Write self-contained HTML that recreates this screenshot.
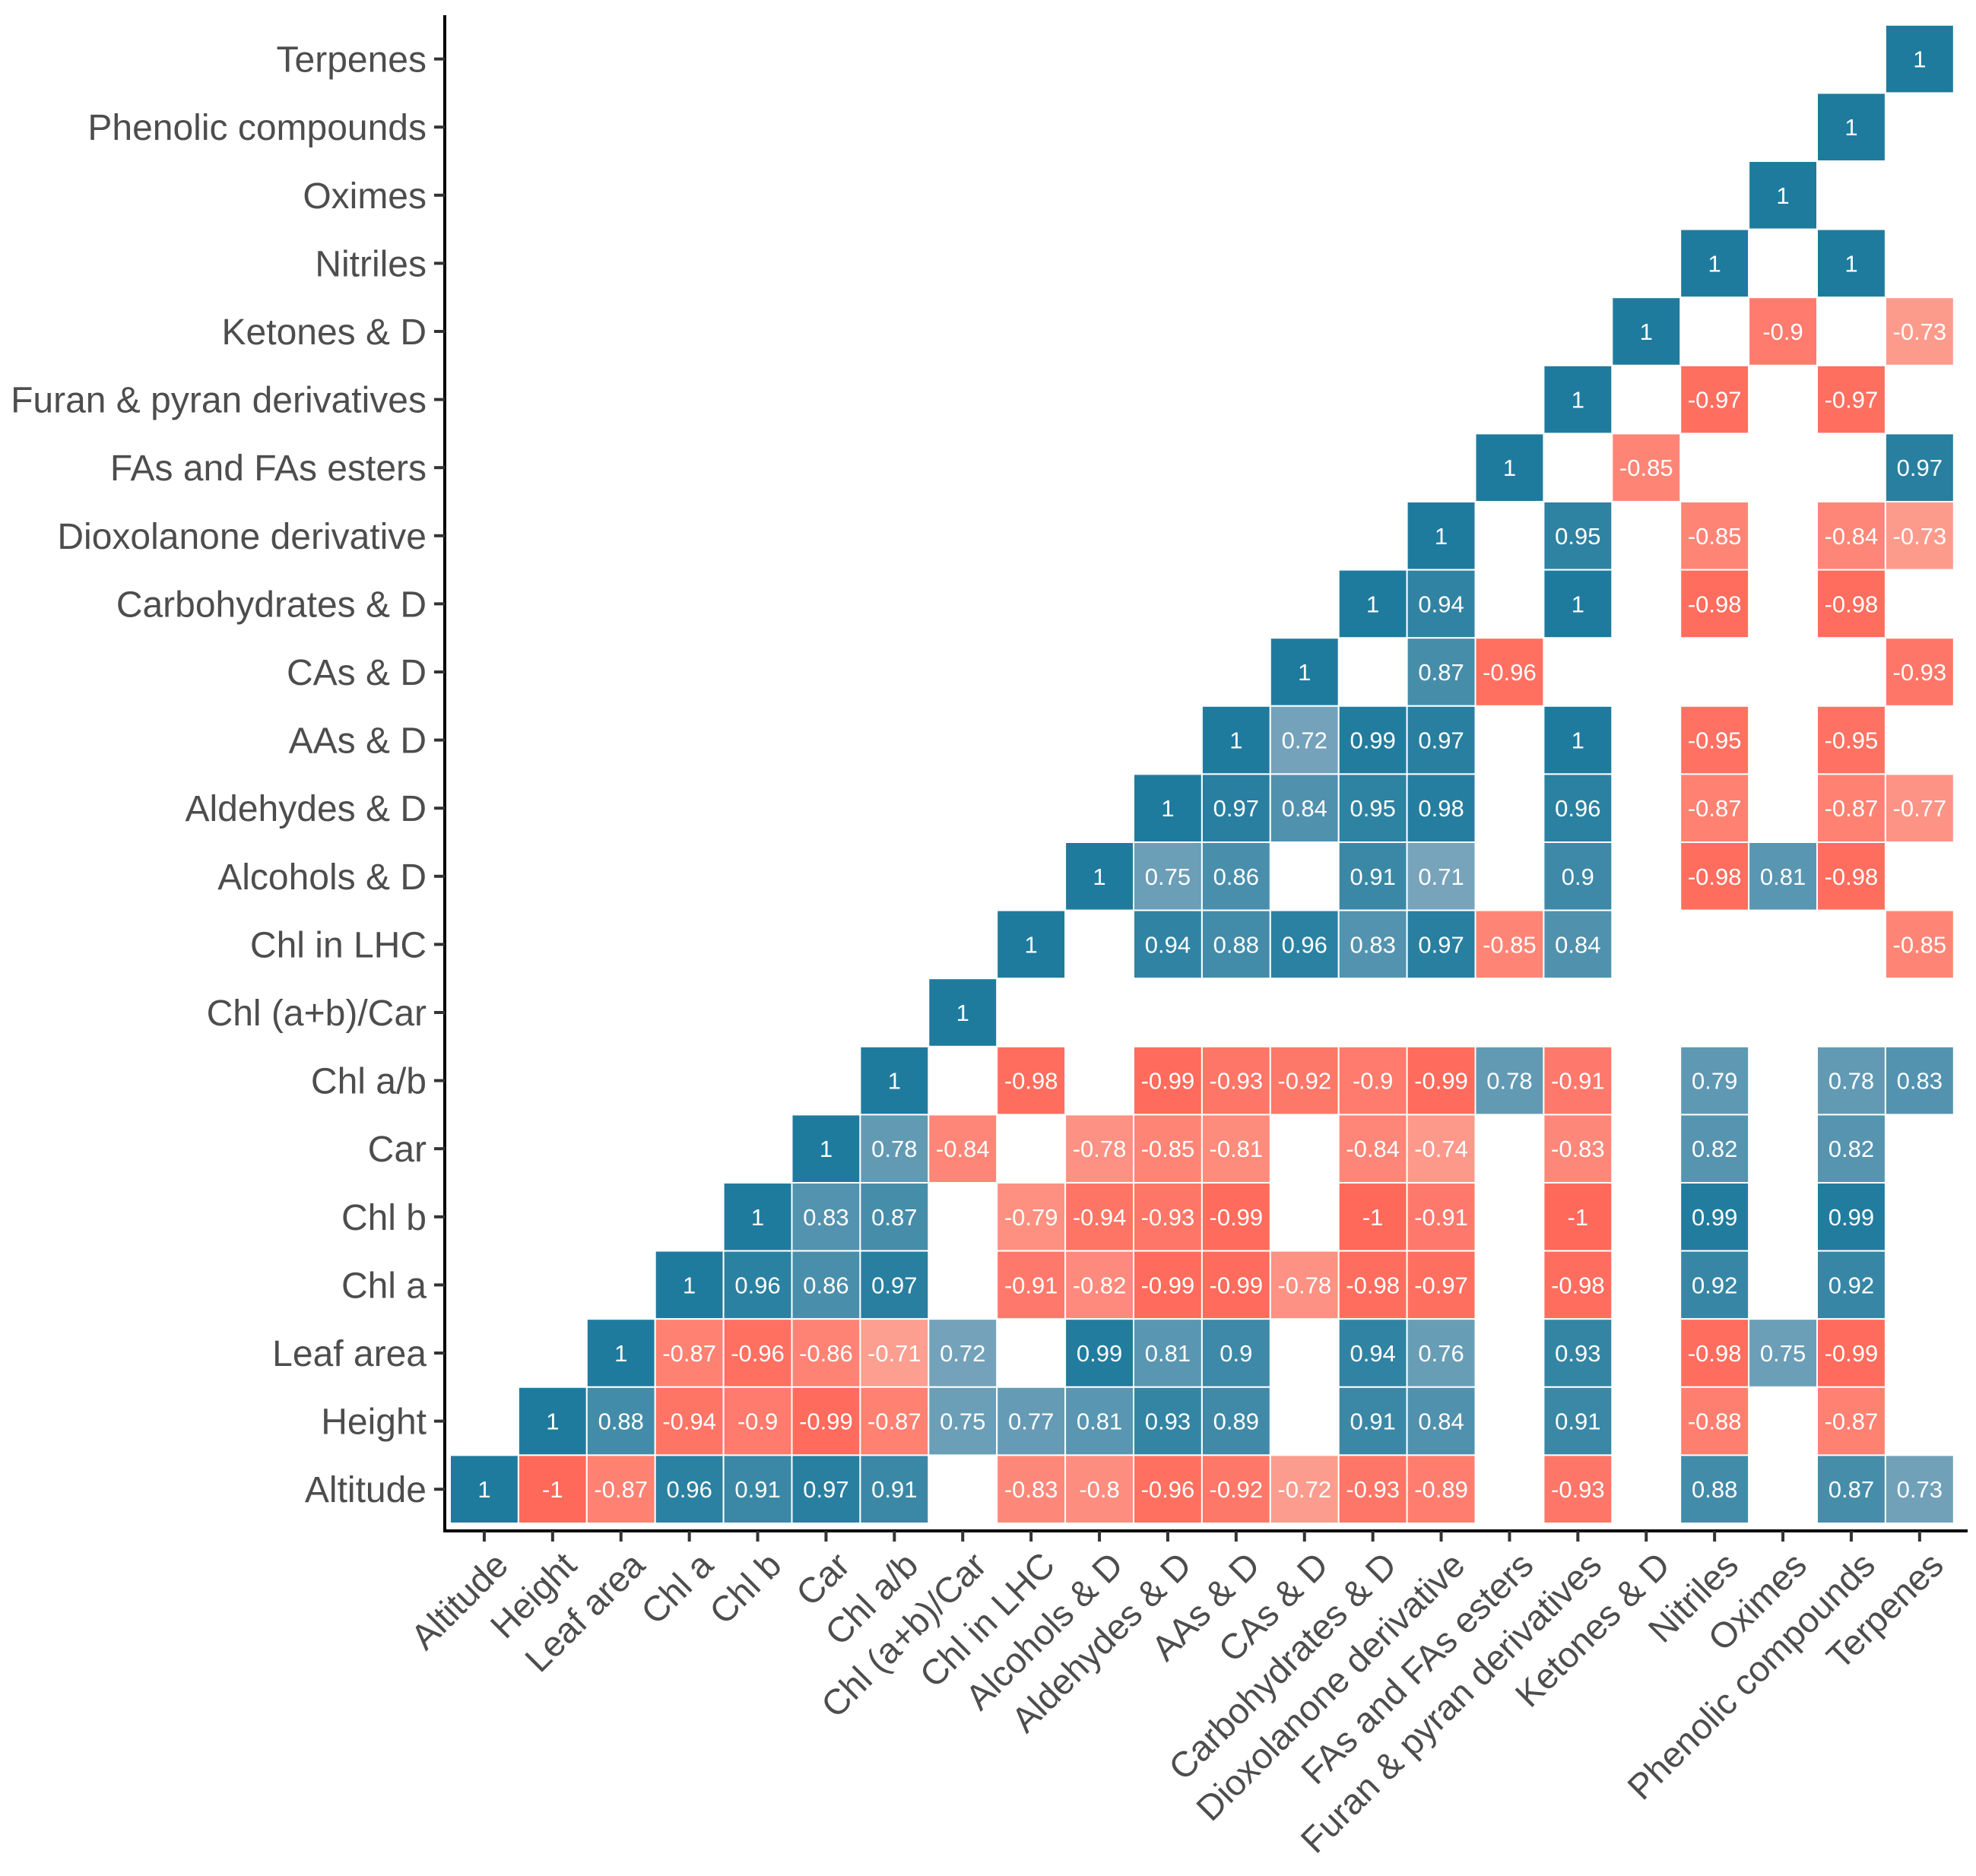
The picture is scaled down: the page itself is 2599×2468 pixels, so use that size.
<!DOCTYPE html>
<html><head><meta charset="utf-8"><style>
html,body{margin:0;padding:0;background:#fff;}
svg{display:block;font-family:"Liberation Sans",Arial,sans-serif;}
</style></head><body>
<svg id="chart" width="2599" height="2468" viewBox="0 0 2599 2468" xmlns="http://www.w3.org/2000/svg">
<g id="cells"></g>
<g id="axes"></g>
</svg>
<script>
const labels = ["Altitude","Height","Leaf area","Chl a","Chl b","Car","Chl a/b","Chl (a+b)/Car","Chl in LHC","Alcohols & D","Aldehydes & D","AAs & D","CAs & D","Carbohydrates & D","Dioxolanone derivative","FAs and FAs esters","Furan & pyran derivatives","Ketones & D","Nitriles","Oximes","Phenolic compounds","Terpenes"];
const cellRow = [21,20,19,18,18,17,17,17,16,16,16,15,15,15,
 14,14,14,14,14, 13,13,13,13,13, 12,12,12,12,
 11,11,11,11,11,11,11,
 10,10,10,10,10,10,10,10,10,
 9,9,9,9,9,9,9,9,9,
 8,8,8,8,8,8,8,8,8,
 7,
 6,6,6,6,6,6,6,6,6,6,6,6,
 5,5,5,5,5,5,5,5,5,5,5,
 4,4,4,4,4,4,4,4,4,4,4,4,
 3,3,3,3,3,3,3,3,3,3,3,3,3,3,
 2,2,2,2,2,2,2,2,2,2,2,2,2,2,2,
 1,1,1,1,1,1,1,1,1,1,1,1,1,1,1,1,
 0,0,0,0,0,0,0,0,0,0,0,0,0,0,0,0,0,0];
const cellCol = [21,20,19,18,20,17,19,21,16,18,20,15,17,21,
 14,16,18,20,21, 13,14,16,18,20, 12,14,15,21,
 11,12,13,14,16,18,20,
 10,11,12,13,14,16,18,20,21,
 9,10,11,13,14,16,18,19,20,
 8,10,11,12,13,14,15,16,21,
 7,
 6,8,10,11,12,13,14,15,16,18,20,21,
 5,6,7,9,10,11,13,14,16,18,20,
 4,5,6,8,9,10,11,13,14,16,18,20,
 3,4,5,6,8,9,10,11,12,13,14,16,18,20,
 2,3,4,5,6,7,9,10,11,13,14,16,18,19,20,
 1,2,3,4,5,6,7,8,9,10,11,13,14,16,18,20,
 0,1,2,3,4,5,6,8,9,10,11,12,13,14,16,18,20,21];
const cellVal = [1,1,1,1,1,1,-0.9,-0.73,1,-0.97,-0.97,1,-0.85,0.97,
 1,0.95,-0.85,-0.84,-0.73, 1,0.94,1,-0.98,-0.98, 1,0.87,-0.96,-0.93,
 1,0.72,0.99,0.97,1,-0.95,-0.95,
 1,0.97,0.84,0.95,0.98,0.96,-0.87,-0.87,-0.77,
 1,0.75,0.86,0.91,0.71,0.9,-0.98,0.81,-0.98,
 1,0.94,0.88,0.96,0.83,0.97,-0.85,0.84,-0.85,
 1,
 1,-0.98,-0.99,-0.93,-0.92,-0.9,-0.99,0.78,-0.91,0.79,0.78,0.83,
 1,0.78,-0.84,-0.78,-0.85,-0.81,-0.84,-0.74,-0.83,0.82,0.82,
 1,0.83,0.87,-0.79,-0.94,-0.93,-0.99,-1,-0.91,-1,0.99,0.99,
 1,0.96,0.86,0.97,-0.91,-0.82,-0.99,-0.99,-0.78,-0.98,-0.97,-0.98,0.92,0.92,
 1,-0.87,-0.96,-0.86,-0.71,0.72,0.99,0.81,0.9,0.94,0.76,0.93,-0.98,0.75,-0.99,
 1,0.88,-0.94,-0.9,-0.99,-0.87,0.75,0.77,0.81,0.93,0.89,0.91,0.84,0.91,-0.88,-0.87,
 1,-1,-0.87,0.96,0.91,0.97,0.91,-0.83,-0.8,-0.96,-0.92,-0.72,-0.93,-0.89,-0.93,0.88,0.87,0.73];

const NS="http://www.w3.org/2000/svg";
const X0=592, Y0=2004, PX=89.9, PY=89.6;
function xScale(i){return X0+PX*i;}
function yScale(j){return Y0-PY*(j+1);}
function lerp(a,b,t){return Math.round(a+(b-a)*t);}
function colorFor(v){
  const t=Math.max(0,Math.min(1,(Math.abs(v)-0.7)/0.3));
  const lo = v>0?[122,165,188]:[252,160,146];
  const hi = v>0?[31,123,157]:[255,105,90];
  return `rgb(${lerp(lo[0],hi[0],t)},${lerp(lo[1],hi[1],t)},${lerp(lo[2],hi[2],t)})`;
}
function mk(tag,attrs,parent){const e=document.createElementNS(NS,tag);for(const k in attrs)e.setAttribute(k,attrs[k]);parent.appendChild(e);return e;}
const cg=document.getElementById('cells');
for(let k=0;k<cellVal.length;k++){
  const x=xScale(cellCol[k]), y=yScale(cellRow[k]);
  const r=mk('rect',{x:x,y:y,width:PX,height:PY,fill:colorFor(cellVal[k]),stroke:'#ffffff','stroke-width':2},cg);
  
  
  const t=mk('text',{x:x+PX/2,y:y+PY/2+11,'text-anchor':'middle','font-size':31,fill:'#ffffff'},cg);
  
  
  t.textContent=String(cellVal[k]);
}
const ag=document.getElementById('axes');
const yl=mk('line',{x1:585,y1:20,x2:585,y2:2016,stroke:'#000','stroke-width':4},ag);


const xl=mk('line',{x1:583,y1:2014,x2:2588,y2:2014,stroke:'#000','stroke-width':4},ag);


for(let i=0;i<labels.length;i++){
  const cy=yScale(i)+PY/2;
  const tk=mk('line',{x1:571,y1:cy,x2:585,y2:cy,stroke:'#333','stroke-width':4},ag);
  
  
  const tl=mk('text',{x:561,y:cy+17,'text-anchor':'end','font-size':48,fill:'#4d4d4d'},ag);
  
  
  tl.textContent=labels[i];
  const cx=xScale(i)+PX/2;
  const tx=mk('line',{x1:cx,y1:2014,x2:cx,y2:2028,stroke:'#333','stroke-width':4},ag);
  
  
  const ax=cx+34, ay=2062;
  const xt=mk('text',{x:ax,y:ay,'text-anchor':'end','font-size':47,fill:'#4d4d4d',transform:`rotate(-45 ${ax} ${ay})`},ag);
  
  
  xt.textContent=labels[i];
}
</script>
</body></html>
